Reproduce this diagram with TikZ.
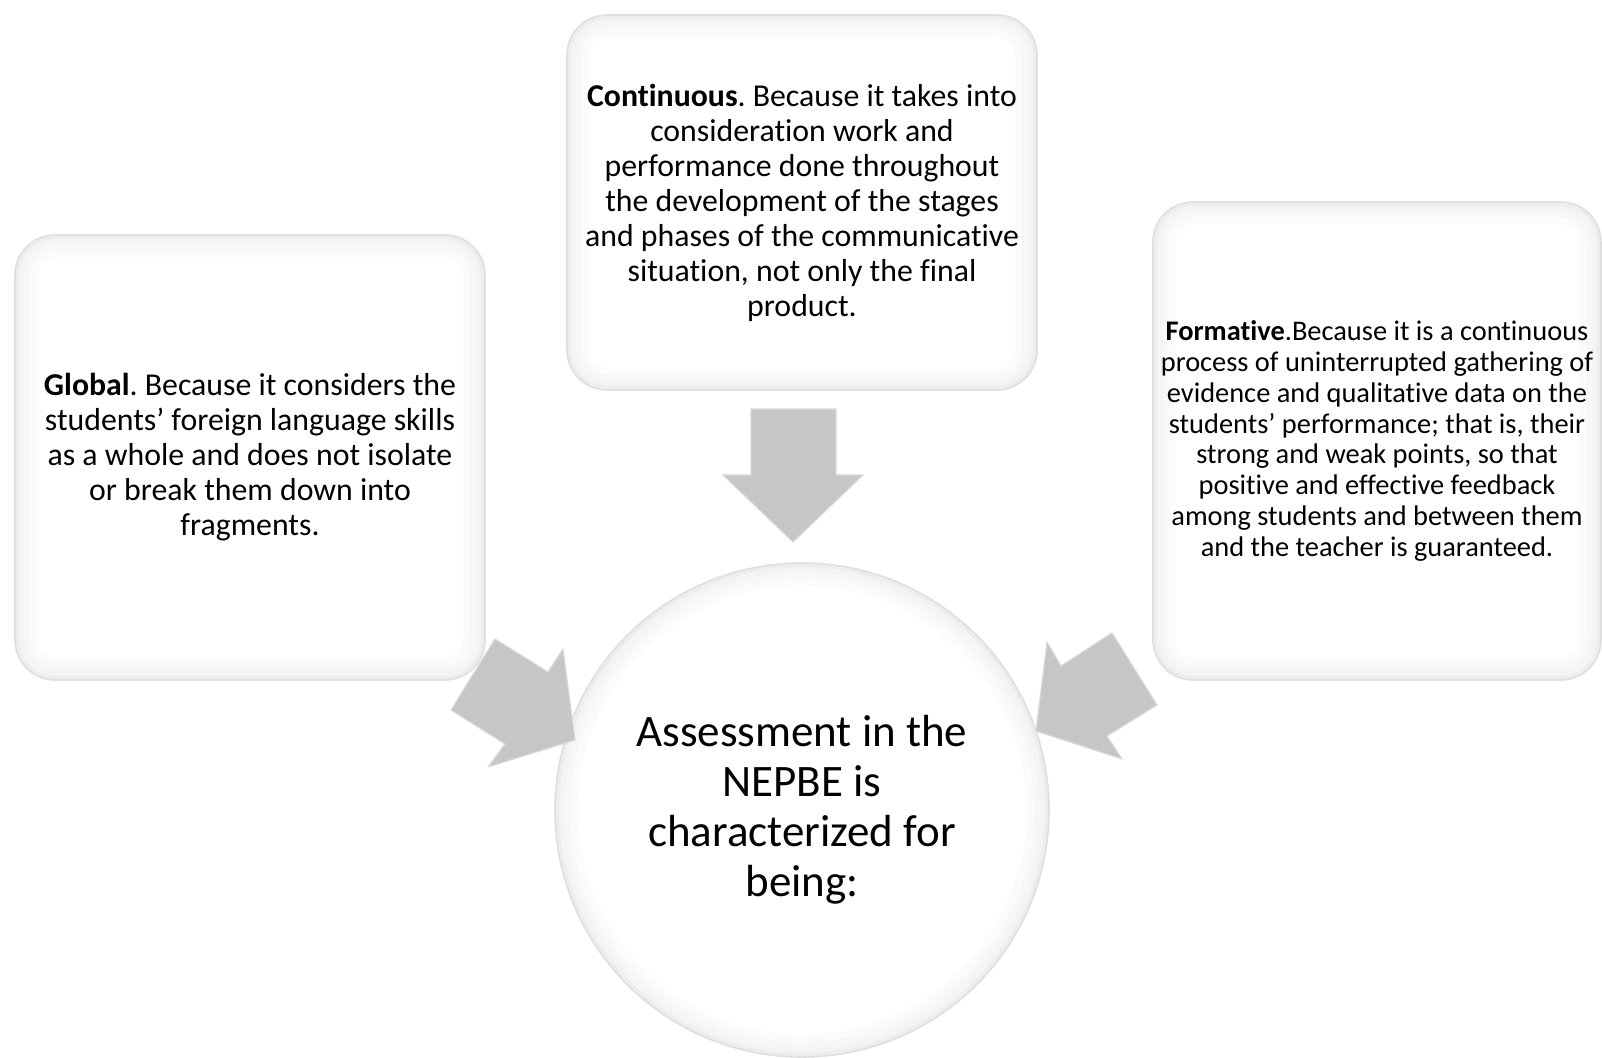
\documentclass[tikz,border=0pt]{standalone}
\usepackage{fontspec}
\setmainfont{Carlito}[Ligatures=NoCommon]
\usetikzlibrary{positioning,calc}
\frenchspacing

\begin{document}
\begin{tikzpicture}[x=0.5pt, y=-0.5pt]
  \tikzset{bx/.style={draw=gray!25, line width=0.8pt, fill=white, rounded corners=20pt, align=center,
      inner sep=2pt, font=\fontsize{15.9}{17.5}\selectfont,
      path picture={\foreach \w/\c in {22/3,15/6,9/9,4/14}
        \draw[gray!\c, line width=\w pt, rounded corners=20pt] (path picture bounding box.south west) rectangle (path picture bounding box.north east);}},
    cr/.style={circle, draw=gray!25, line width=0.8pt, fill=white, align=center, minimum size=247pt,
      font=\fontsize{22.5}{25}\selectfont,
      path picture={\foreach \w/\c in {22/3,15/6,9/9,4/14}
        \draw[gray!\c, line width=\w pt] (path picture bounding box.center) circle (123.5pt);}},
    ar/.style={fill=gray!45, draw=gray!30, line width=0.6pt, line join=round}}
  \useasboundingbox (0,0) rectangle (1602,1058);
  % the three features round the centre
  \node[bx, minimum width=235pt, minimum height=222.5pt] (global) at (250,457.5)
    {\textbf{Global}. Because it considers the\\ students’ foreign language skills\\ as a whole and does not isolate\\ or break them down into\\ fragments.};
  \node[bx, minimum width=235pt, minimum height=187.5pt] (continuous) at (802,202.5)
    {\textbf{Continuous}. Because it takes into\\ consideration work and\\ performance done throughout\\ the development of the stages\\ and phases of the communicative\\ situation, not only the final\\ product.};
  \node[bx, minimum width=224pt, minimum height=239pt, font=\fontsize{14.2}{15.4}\selectfont] (formative) at (1377,441)
    {\textbf{Formative}.Because it is a continuous\\ process of uninterrupted gathering of\\ evidence and qualitative data on the\\ students’ performance; that is, their\\ strong and weak points, so that\\ positive and effective feedback\\ among students and between them\\ and the teacher is guaranteed.};
  \node[cr] (core) at (802,810) {Assessment in the\\ NEPBE is\\ characterized for\\ being:};
  % block arrows into the circle
  \draw[ar] (751,409) -- (836,409) -- (836,475) -- (863,475) -- (793,542) -- (723,475) -- (751,475) -- cycle;
  \draw[ar] (495,639) -- (548,672) -- (563,649) -- (575,740) -- (488,767) -- (505,744) -- (451,710) -- cycle;
  \draw[ar] (1112,633) -- (1061,666) -- (1047,642) -- (1036,731) -- (1122,759) -- (1107,736) -- (1157,705) -- cycle;
\end{tikzpicture}
\end{document}
